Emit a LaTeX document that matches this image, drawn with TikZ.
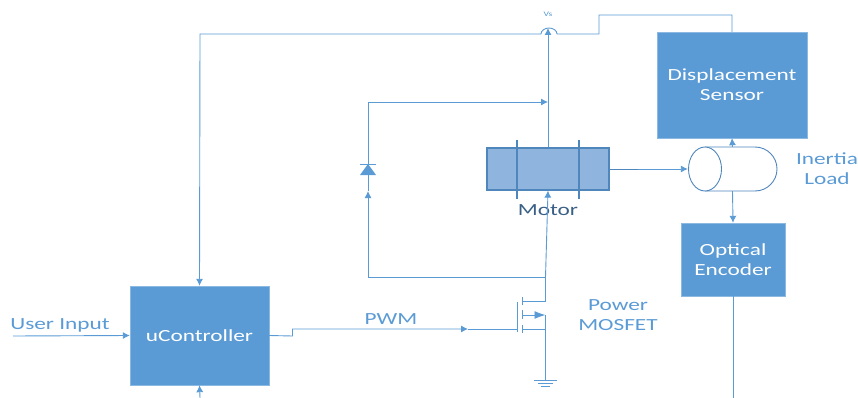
\documentclass[tikz,border=0pt]{standalone}
\usepackage{fontspec}
\setmainfont[FakeStretch=1.37]{Carlito}
\usetikzlibrary{arrows.meta}
\definecolor{boxblue}{HTML}{5B9BD5}
\definecolor{motorblue}{HTML}{8FB4DE}
\definecolor{motoredge}{HTML}{4F86BC}
\definecolor{motortext}{HTML}{3A5F85}
\tikzset{
    block/.style={fill=boxblue, draw=boxblue!70, text=white, inner sep=0pt, align=center, font=\fontsize{17}{20}\selectfont},
    wire/.style={draw=boxblue, line width=0.9pt},
    flow/.style={wire, -{Latex[length=7pt, width=7pt]}},
    tag/.style={text=boxblue, align=center, inner sep=0pt, font=\fontsize{17}{20}\selectfont}
}
\begin{document}
\begin{tikzpicture}[x=1pt, y=-1pt]
    \useasboundingbox (0,0) rectangle (858,398);

    % Blocks
    \node[block, minimum width=139pt, minimum height=99pt] (uctrl) at (199.5,335.5) {uController};
    \node[block, minimum width=150pt, minimum height=106pt] (sensor) at (732,85) {Displacement\\Sensor};
    \node[block, minimum width=104pt, minimum height=73pt] (encoder) at (733,259.5) {Optical\\Encoder};

    % Motor
    \node[fill=motorblue, draw=motoredge, line width=1.2pt, minimum width=122pt, minimum height=42pt, inner sep=0pt] (motor) at (548,169) {};
    \draw[draw=motoredge, line width=1.2pt] (517,140) -- (517,199);
    \draw[draw=motoredge, line width=1.2pt] (579,140) -- (579,199);
    \node[text=motortext, inner sep=0pt, font=\fontsize{17}{20}\selectfont] (motorlabel) at (548,210) {Motor};

    % Inertia load
    \node[minimum width=89pt, minimum height=44pt, inner sep=0pt] (load) at (732.5,169) {};
    \draw[draw=motoredge, line width=0.9pt] (705,147) -- (755,147) arc[start angle=-90, end angle=90, x radius=22, y radius=22] -- (705,191);
    \draw[draw=motoredge, line width=0.9pt, fill=white] (705,169) circle[x radius=16.5, y radius=22];
    \node[tag] (loadlabel) at (827,169) {Inertia\\Load};

    % Free ends and bends
    \coordinate (userin) at (13,336);
    \coordinate (ucbottom) at (200,398);
    \coordinate (enddown) at (733,398);
    \coordinate (vstip) at (548,28);
    \coordinate (crossr) at (557,34);
    \coordinate (backtop) at (368,102);
    \coordinate (backtip) at (548,102);
    \coordinate (backlow) at (368,277);
    \coordinate (backjoin) at (545.5,277);
    \coordinate (diodein) at (368,191);
    \coordinate (pwmtip) at (468,329);
    \coordinate (gate) at (517.5,329);
    \coordinate (drain) at (545.5,301);
    \coordinate (source) at (545.5,315);
    \coordinate (ground) at (545.5,380);
    \coordinate (shaftend) at (638,169);

    % Sensor back to controller
    \draw[flow] (sensor.north) -- (732,15) -- (599,15) -- (599,34) -- (crossr) arc[start angle=0, end angle=-180, x radius=8, y radius=6] -- (200,34) -- (uctrl.north);

    % Supply line
    \draw[flow] (motor.north) -- (vstip);
    \node[text=boxblue, inner sep=0pt, font=\fontsize{7}{8}\selectfont] (vs) at (548,14) {Vs};

    % Freewheel path
    \draw[flow] (backlow) -- (diodein);
    \draw[wire] (diodein) -- (368,175);
    \draw[flow] (368,164) -- (backtop) -- (backtip);
    \draw[wire] (backlow) -- (backjoin);
    \draw[flow] (backjoin) -- (motor.south);
    \fill[boxblue] (368,164) -- (376,175) -- (360,175) -- cycle;
    \draw[wire] (360,164) -- (376,164);

    % MOSFET
    \draw[wire] (drain) -- (backjoin);
    \draw[wire] (517.5,302) -- (517.5,332);
    \draw[wire] (522.5,297) -- (522.5,305);
    \draw[wire] (522.5,310) -- (522.5,319);
    \draw[wire] (522.5,325) -- (522.5,333);
    \draw[wire] (522.5,301) -- (drain);
    \draw[wire, -{Latex[length=11pt, width=8pt]}] (522.5,315) -- (source);
    \draw[wire] (522.5,329) -- (545.5,329);
    \draw[wire] (source) -- (ground);
    \draw[wire] (534,380) -- (557,380);
    \draw[wire] (538,383.5) -- (553,383.5);
    \draw[wire] (541,386.5) -- (550,386.5);
    \node[tag] (mosfetlabel) at (618,315) {Power\\MOSFET};

    % Controller signals
    \draw[flow] (userin) -- (uctrl.west);
    \node[tag] (userlabel) at (60,325) {User Input};
    \draw[flow] (ucbottom) -- (uctrl.south);
    \draw[flow] (uctrl.east) -- (292.5,336) -- (292.5,329) -- (pwmtip);
    \draw[wire] (pwmtip) -- (gate);
    \node[tag] (pwmlabel) at (391,319) {PWM};

    % Load connections
    \draw[flow] (motor.east) -- (load.west);
    \draw[draw=motoredge, line width=0.9pt] (motor.east) -- (shaftend);
    \draw[flow] (load.north) -- (sensor.south);
    \draw[flow] (load.south) -- (encoder.north);
    \draw[wire] (encoder.south) -- (enddown);
\end{tikzpicture}
\end{document}
